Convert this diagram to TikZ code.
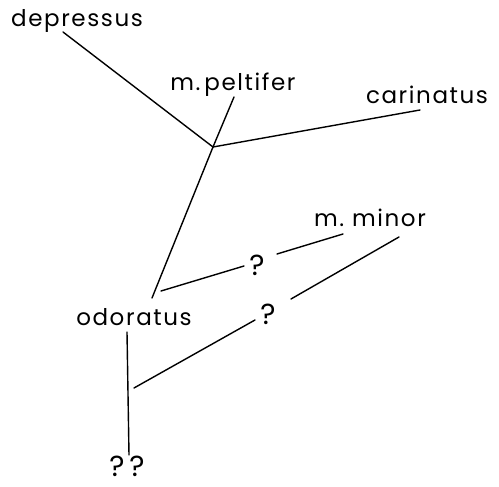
\documentclass[tikz,border=0pt]{standalone}
\usepackage{fontspec}
\setmainfont[LetterSpace=7]{Poppins}
\usetikzlibrary{positioning}
\tikzset{
  taxon/.style={font=\fontsize{23}{27}\selectfont,inner sep=0pt,anchor=base},
  query/.style={font=\fontsize{29}{33}\selectfont,inner sep=0pt,anchor=base},
  branch/.style={line width=1.4pt,line cap=round}
}

\begin{document}
\begin{tikzpicture}[x=1pt,y=-1pt]
  \useasboundingbox (0,0) rectangle (499,487);

  % labels (base line positions)
  \node[taxon] (depressus) at (77,27) {depressus};
  \node[taxon] (peltifer) at (233,91) {m.\,peltifer};
  \node[taxon] (carinatus) at (427,104) {carinatus};
  \node[taxon] (minor) at (370,226) {m.~minor};
  \node[taxon] (odoratus) at (134,325) {odoratus};
  \node[query] (qa) at (257,275) {?};
  \node[query] (qb) at (268,324) {?};
  \node[query] (qq) at (127,476) {?\,?};

  % branch ends
  \coordinate (j) at (213,147);
  \coordinate (dep end) at (63,32);
  \coordinate (pel end) at (234,97);
  \coordinate (car end) at (420,110);
  \coordinate (odo top) at (152,298);
  \coordinate (odo right) at (161,291);
  \coordinate (qa left) at (244,266);
  \coordinate (qa right) at (277,254);
  \coordinate (min left) at (343,234);
  \coordinate (min right) at (399,237);
  \coordinate (qb right) at (291,299);
  \coordinate (qb left) at (255,320);
  \coordinate (stem mid) at (134,388);
  \coordinate (odo bottom) at (127,332);
  \coordinate (stem end) at (129,455);

  \draw[branch] (dep end) -- (j);
  \draw[branch] (pel end) -- (j);
  \draw[branch] (car end) -- (j);
  \draw[branch] (j) -- (odo top);
  \draw[branch] (odo right) -- (qa left);
  \draw[branch] (qa right) -- (min left);
  \draw[branch] (min right) -- (qb right);
  \draw[branch] (qb left) -- (stem mid);
  \draw[branch] (odo bottom) -- (stem end);
\end{tikzpicture}
\end{document}
